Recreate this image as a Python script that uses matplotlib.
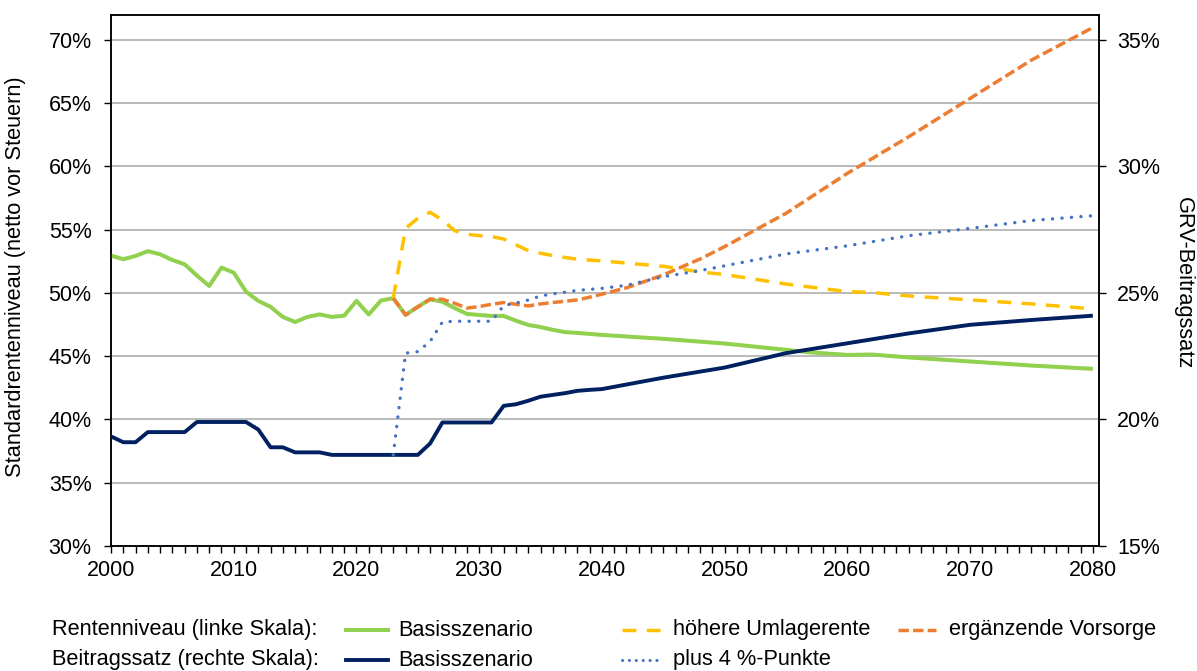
import matplotlib
matplotlib.use("Agg")
import matplotlib.pyplot as plt
from matplotlib.lines import Line2D
from matplotlib.ticker import MultipleLocator, FuncFormatter

plt.rcParams['font.family'] = ['Liberation Sans', 'DejaVu Sans']

# ---------------- data ----------------
# Rentenniveau Basisszenario (left axis, %)
years_rn = [2000, 2001, 2002, 2003, 2004, 2005, 2006, 2007, 2008, 2009,
            2010, 2011, 2012, 2013, 2014, 2015, 2016, 2017, 2018, 2019,
            2020, 2021, 2022, 2023, 2024, 2025, 2026, 2027, 2028, 2029,
            2030, 2031, 2032, 2033, 2034, 2035, 2036, 2037, 2038, 2040,
            2045, 2050, 2055, 2057, 2060, 2062, 2065, 2070, 2075, 2080]
rn_basis = [52.95, 52.66, 52.92, 53.3, 53.05, 52.6, 52.26, 51.37, 50.55, 52.0,
            51.6, 50.1, 49.37, 48.9, 48.1, 47.7, 48.1, 48.3, 48.1, 48.2,
            49.37, 48.3, 49.4, 49.58, 48.26, 48.9, 49.5, 49.3, 48.8, 48.34,
            48.26, 48.18, 48.18, 47.8, 47.47, 47.3, 47.08, 46.9, 46.84, 46.68,
            46.37, 46.0, 45.5, 45.3, 45.1, 45.13, 44.9, 44.58, 44.26, 44.0]

# Rentenniveau höhere Umlagerente (left axis, %)
years_uml = [2023, 2024, 2025, 2026, 2027, 2028, 2029, 2030, 2031, 2032,
             2033, 2034, 2035, 2036, 2037, 2038, 2040, 2045, 2048, 2050,
             2055, 2060, 2062, 2065, 2070, 2075, 2080]
rn_umlage = [49.58, 55.1, 55.9, 56.37, 55.76, 54.92, 54.63, 54.53, 54.45, 54.26,
             53.8, 53.34, 53.13, 52.95, 52.8, 52.66, 52.53, 52.1, 51.66, 51.45,
             50.7, 50.1, 50.03, 49.76, 49.45, 49.13, 48.74]

# Rentenniveau ergänzende Vorsorge (left axis, %)
years_vor = [2023, 2024, 2025, 2026, 2027, 2028, 2029, 2030, 2031, 2032,
             2033, 2034, 2035, 2036, 2037, 2038, 2039, 2040, 2042, 2045,
             2048, 2050, 2055, 2060, 2065, 2070, 2075, 2080]
rn_vorsorge = [49.58, 48.26, 48.9, 49.5, 49.5, 49.18, 48.8, 48.92, 49.1, 49.24,
               49.1, 48.97, 49.13, 49.24, 49.34, 49.45, 49.66, 49.9, 50.4, 51.42,
               52.68, 53.66, 56.29, 59.45, 62.34, 65.37, 68.4, 70.97]

# Beitragssatz Basisszenario (right axis, %)
years_bs = [2000, 2001, 2002, 2003, 2004, 2005, 2006, 2007, 2008, 2009,
            2010, 2011, 2012, 2013, 2014, 2015, 2016, 2017, 2018, 2019,
            2020, 2021, 2022, 2023, 2024, 2025, 2026, 2027, 2028, 2029,
            2030, 2031, 2032, 2033, 2034, 2035, 2036, 2037, 2038, 2039,
            2040, 2045, 2050, 2055, 2060, 2065, 2070, 2075, 2080]
bs_basis = [19.33, 19.1, 19.1, 19.5, 19.5, 19.5, 19.5, 19.9, 19.9, 19.9,
            19.9, 19.9, 19.6, 18.9, 18.9, 18.7, 18.7, 18.7, 18.6, 18.6,
            18.6, 18.6, 18.6, 18.6, 18.6, 18.6, 19.05, 19.88, 19.88, 19.88,
            19.88, 19.88, 20.54, 20.6, 20.74, 20.9, 20.97, 21.04, 21.13, 21.17,
            21.2, 21.65, 22.05, 22.62, 23.01, 23.4, 23.74, 23.93, 24.1]

# Beitragssatz plus 4 %-Punkte (right axis, %)
years_p4 = [2023, 2024, 2025, 2026, 2027, 2028, 2029, 2030, 2031, 2032,
            2033, 2034, 2035, 2036, 2038, 2040, 2042, 2045, 2048, 2050,
            2055, 2060, 2065, 2070, 2075, 2080]
bs_plus4 = [18.6, 22.62, 22.68, 23.08, 23.85, 23.88, 23.88, 23.88, 23.88, 24.5,
            24.6, 24.72, 24.88, 24.96, 25.1, 25.18, 25.3, 25.64, 25.88, 26.07,
            26.54, 26.86, 27.26, 27.55, 27.86, 28.05]

left_ticks = [30, 35, 40, 45, 50, 55, 60, 65, 70]
right_ticks = [15, 20, 25, 30, 35]
x_ticks = [2000, 2010, 2020, 2030, 2040, 2050, 2060, 2070, 2080]

# ---------------- colours ----------------
c_green = '#92D050'
c_navy = '#002060'
c_yellow = '#FFC000'
c_orange = '#ED7D31'
c_blue = '#4472C4'
c_grid = '#B4B4B4'

W, H = 1197, 671
fig = plt.figure(figsize=(W / 100, H / 100), dpi=100)
ax = fig.add_axes([111 / W, 1 - 546 / H, (1099 - 111) / W, (546 - 14.5) / H])
ax2 = ax.twinx()

FS = 15.5
FL = 15.7

ax.set_xlim(2000, 2080.5)
ax.set_ylim(30, 72)
ax2.set_ylim(15, 36)

ax.set_yticks(left_ticks)
ax2.set_yticks(right_ticks)
ax.set_xticks(x_ticks)
ax.xaxis.set_minor_locator(MultipleLocator(1))

pct = FuncFormatter(lambda v, p: f"{v:.0f}%")
ax.yaxis.set_major_formatter(pct)
ax2.yaxis.set_major_formatter(pct)

for y in left_ticks[1:]:
    ax.axhline(y, color=c_grid, lw=1.3, zorder=0)

DASH_Y = (0, (4, 3))
DASH_O = (0, (3, 1.2))
DOT_B = (0, (0.05, 2.8))

# lines on left axis
ax.plot(years_rn, rn_basis, color=c_green, lw=2.9, solid_capstyle='butt',
        solid_joinstyle='round', zorder=3)
ax.plot(years_uml, rn_umlage, color=c_yellow, lw=2.5, linestyle=DASH_Y,
        dash_capstyle='butt', zorder=4)
ax.plot(years_vor, rn_vorsorge, color=c_orange, lw=2.5, linestyle=DASH_O,
        dash_capstyle='butt', zorder=5)

# lines on right axis
ax2.plot(years_bs, bs_basis, color=c_navy, lw=2.8, solid_capstyle='butt',
         solid_joinstyle='round', zorder=3)
ax2.plot(years_p4, bs_plus4, color=c_blue, lw=2.4, linestyle=DOT_B,
         dash_capstyle='round', zorder=4)

for a in (ax, ax2):
    for s in a.spines.values():
        s.set_color('black')
        s.set_linewidth(1.1)

ax.tick_params(axis='y', which='major', direction='out', length=5, width=1,
               labelsize=FS, pad=9, colors='black')
ax2.tick_params(axis='y', which='major', direction='out', length=5, width=1,
                labelsize=FS, pad=8, colors='black')
ax.tick_params(axis='x', which='major', direction='out', length=5, width=1,
               labelsize=FS, pad=5)
ax.tick_params(axis='x', which='minor', direction='out', length=5, width=1)

fig.text(16 / W, 1 - 277 / H, 'Standardrentenniveau (netto vor Steuern)',
         rotation=90, ha='center', va='center', fontsize=FL)
fig.text(1183 / W, 1 - 283 / H, 'GRV-Beitragssatz',
         rotation=-90, ha='center', va='center', fontsize=FL)

# ---------------- legend (manual layout) ----------------
def fx(px):
    return px / W

def fy(py):
    return 1 - py / H

row1, row2 = 630, 660
fig.text(fx(52), fy(row1), 'Rentenniveau (linke Skala):', ha='left', va='center', fontsize=FL)
fig.text(fx(52), fy(row2), 'Beitragssatz (rechte Skala):', ha='left', va='center', fontsize=FL)

def sample(x0, x1, yy, **kw):
    fig.add_artist(Line2D([fx(x0), fx(x1)], [fy(yy), fy(yy)],
                          transform=fig.transFigure, **kw))

sample(346, 388, row1, color=c_green, lw=2.9)
fig.text(fx(398), fy(row1), 'Basisszenario', ha='left', va='center', fontsize=FL)
sample(346, 388, row2, color=c_navy, lw=2.8)
fig.text(fx(398), fy(row2), 'Basisszenario', ha='left', va='center', fontsize=FL)

sample(622, 660, row1, color=c_yellow, lw=2.5, linestyle=DASH_Y, dash_capstyle='butt')
fig.text(fx(673), fy(row1), 'höhere Umlagerente', ha='left', va='center', fontsize=FL)
sample(622, 660, row2, color=c_blue, lw=2.2, linestyle=(0, (0.05, 2.2)), dash_capstyle='round')
fig.text(fx(673), fy(row2), 'plus 4 %-Punkte', ha='left', va='center', fontsize=FL)

sample(898, 936, row1, color=c_orange, lw=2.5, linestyle=DASH_O, dash_capstyle='butt')
fig.text(fx(949), fy(row1), 'ergänzende Vorsorge', ha='left', va='center', fontsize=FL)

fig.savefig('out.png', dpi=100)
